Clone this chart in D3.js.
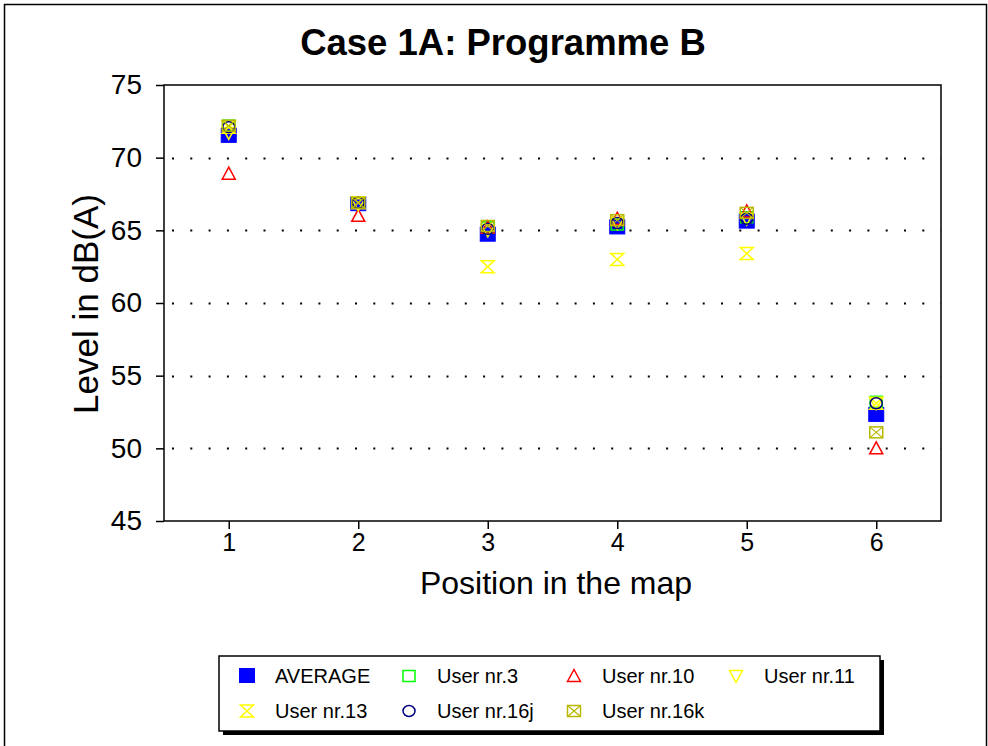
<!DOCTYPE html>
<html>
<head>
<meta charset="utf-8">
<script src="https://cdn.jsdelivr.net/npm/d3@7/dist/d3.min.js"></script>
<style>
  html, body { margin: 0; padding: 0; background: #fff; }
  svg { display: block; font-family: Arial, "Liberation Sans", sans-serif; }
</style>
</head>
<body>
<svg id="chart" width="988" height="746"></svg>
<script>
// Measured noise levels per map position, in dB(A)
const positions = [1, 2, 3, 4, 5, 6];
const average  = [71.5, 66.8, 64.7, 65.2, 65.6, 52.3];
const user3    = [72.2, 66.9, 65.2, 65.4, 65.9, 53.2];
const user10   = [68.9, 66.0, 65.2, 65.8, 66.3, 50.0];
const user11   = [71.7, 66.8, 65.0, 65.5, 65.8, 53.1];
const user13   = [72.1, 66.9, 62.5, 63.0, 63.4, 53.1];
const user16j  = [72.1, 66.9, 65.1, 65.5, 65.8, 53.1];
const user16k  = [72.2, 66.9, 65.3, 65.7, 66.2, 51.1];
const yTicks = [45, 50, 55, 60, 65, 70, 75];
const gridValues = [50, 55, 60, 65, 70];

const series = [
  { name: "AVERAGE",     values: average, shape: "fillsquare", color: "#0000ff" },
  { name: "User nr.3",   values: user3,   shape: "square",     color: "#00ff00" },
  { name: "User nr.10",  values: user10,  shape: "triup",      color: "#ff0000" },
  { name: "User nr.11",  values: user11,  shape: "tridown",    color: "#ffff00" },
  { name: "User nr.13",  values: user13,  shape: "hourglass",  color: "#ffff00" },
  { name: "User nr.16j", values: user16j, shape: "circle",     color: "#000080" },
  { name: "User nr.16k", values: user16k, shape: "xsquare",    color: "#b8b800" }
];

const svg = d3.select("#chart");

// outer frame
svg.append("rect").attr("x", 4.5).attr("y", 4.5).attr("width", 982).attr("height", 760)
  .attr("fill", "none").attr("stroke", "#000").attr("stroke-width", 1.5);

const plot = { left: 164, right: 941, top: 85, bottom: 521 };
const x = d3.scaleLinear().domain([0.5, 6.5]).range([plot.left, plot.right]);
const y = d3.scaleLinear().domain([45, 75]).range([plot.bottom, plot.top]);

// title
svg.append("text").attr("x", 503).attr("y", 55).attr("text-anchor", "middle")
  .attr("font-size", 36.5).attr("font-weight", "bold").text("Case 1A: Programme B");

// dotted grid
svg.append("g").selectAll("line").data(gridValues).join("line")
  .attr("x1", plot.left).attr("x2", plot.right)
  .attr("y1", d => Math.round(y(d)) + 0.5).attr("y2", d => Math.round(y(d)) + 0.5)
  .attr("stroke", "#000").attr("stroke-width", 2).attr("stroke-dasharray", "2,16.3")
  .attr("stroke-dashoffset", -8);

// plot frame
svg.append("rect").attr("x", plot.left).attr("y", plot.top)
  .attr("width", plot.right - plot.left).attr("height", plot.bottom - plot.top)
  .attr("fill", "none").attr("stroke", "#000").attr("stroke-width", 1.5);

// axes
const yAxis = d3.axisLeft(y).tickValues(yTicks).tickSize(8).tickPadding(14).tickFormat(d3.format("d"));
const gy = svg.append("g").attr("transform", `translate(${plot.left},0)`).call(yAxis);
gy.select(".domain").remove();
gy.selectAll("line").attr("stroke-width", 1.5);
gy.selectAll("text").attr("font-size", 28).attr("font-family", "Arial, 'Liberation Sans', sans-serif").attr("fill", "#000");

const xAxis = d3.axisBottom(x).tickValues(positions).tickSize(8).tickPadding(4).tickFormat(d3.format("d"));
const gx = svg.append("g").attr("transform", `translate(0,${plot.bottom})`).call(xAxis);
gx.select(".domain").remove();
gx.selectAll("line").attr("stroke-width", 1.5);
gx.selectAll("text").attr("font-size", 25).attr("font-family", "Arial, 'Liberation Sans', sans-serif").attr("fill", "#000");

// axis titles
svg.append("text").attr("x", 556).attr("y", 594).attr("text-anchor", "middle")
  .attr("font-size", 32).text("Position in the map");
svg.append("text").attr("transform", "translate(98,304) rotate(-90)").attr("text-anchor", "middle")
  .attr("font-size", 35).text("Level in dB(A)");

// marker drawing
function drawMarker(g, shape, color) {
  switch (shape) {
    case "fillsquare":
      g.append("rect").attr("x", -7.5).attr("y", -7.5).attr("width", 15).attr("height", 14)
        .attr("fill", color).attr("stroke", color).attr("stroke-width", 1);
      break;
    case "square":
      g.append("rect").attr("x", -6).attr("y", -5.5).attr("width", 12).attr("height", 11)
        .attr("fill", "none").attr("stroke", color).attr("stroke-width", 1.5);
      break;
    case "triup":
      g.append("path").attr("d", "M0,-6.5L6.5,5.5L-6.5,5.5Z")
        .attr("fill", "none").attr("stroke", color).attr("stroke-width", 1.5);
      break;
    case "tridown":
      g.append("path").attr("d", "M-6.5,-5.5L6.5,-5.5L0,6.5Z")
        .attr("fill", "none").attr("stroke", color).attr("stroke-width", 1.5);
      break;
    case "hourglass":
      g.append("path").attr("d", "M-6.5,-6L6.5,-6L-6.5,6L6.5,6Z")
        .attr("fill", "none").attr("stroke", color).attr("stroke-width", 1.5);
      break;
    case "circle":
      g.append("ellipse").attr("rx", 6).attr("ry", 5.5)
        .attr("fill", "none").attr("stroke", color).attr("stroke-width", 1.5);
      break;
    case "xsquare":
      g.append("rect").attr("x", -6.5).attr("y", -5.5).attr("width", 13).attr("height", 11)
        .attr("fill", "none").attr("stroke", color).attr("stroke-width", 1.5);
      g.append("path").attr("d", "M-6.5,-5.5L6.5,5.5M6.5,-5.5L-6.5,5.5")
        .attr("fill", "none").attr("stroke", color).attr("stroke-width", 1.2);
      break;
  }
}

// data points
series.forEach(s => {
  const g = svg.append("g");
  s.values.forEach((v, i) => {
    const m = g.append("g").attr("transform", `translate(${x(positions[i])},${y(v)})`);
    drawMarker(m, s.shape, s.color);
  });
});

// legend
const lg = svg.append("g");
const lgBox = { x: 219, y: 656, w: 661, h: 75 };
lg.append("rect").attr("x", lgBox.x + 4).attr("y", lgBox.y + 4).attr("width", lgBox.w).attr("height", lgBox.h)
  .attr("fill", "#000");
lg.append("rect").attr("x", lgBox.x).attr("y", lgBox.y).attr("width", lgBox.w).attr("height", lgBox.h)
  .attr("fill", "#fff").attr("stroke", "#000").attr("stroke-width", 1.5);
const colX = [247, 409, 574, 736];
const rowY = [676, 711];
series.forEach((s, i) => {
  const cx = colX[i % 4], cy = rowY[Math.floor(i / 4)];
  const m = lg.append("g").attr("transform", `translate(${cx},${cy})`);
  drawMarker(m, s.shape, s.color);
  lg.append("text").attr("x", cx + 28).attr("y", cy + 7).attr("font-size", 20).text(s.name);
});
</script>
</body>
</html>
